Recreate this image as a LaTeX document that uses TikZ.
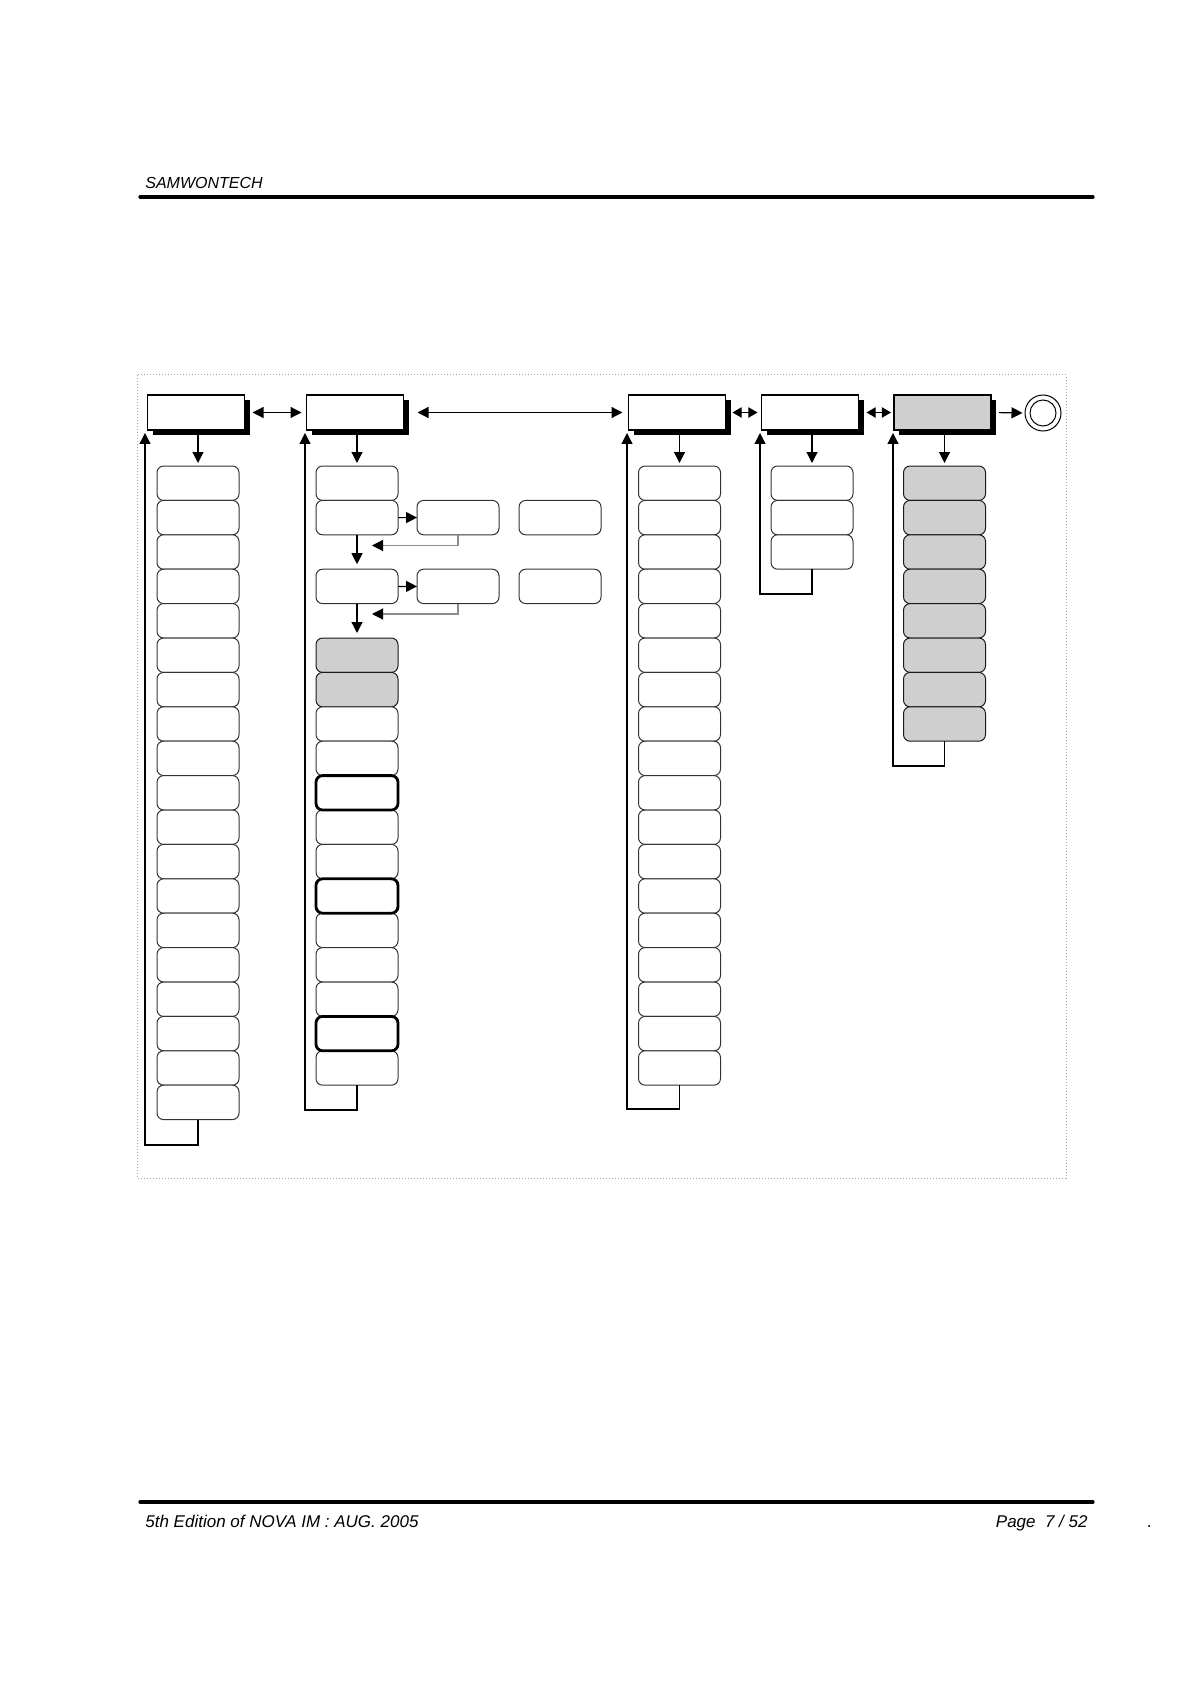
\documentclass[tikz,border=0pt]{standalone}
\usepackage{fontspec}
\setmainfont{Liberation Sans}
\usetikzlibrary{arrows.meta,shadows,calc}
\begin{document}
\begin{tikzpicture}[x=0.5pt,y=-0.5pt,
 item/.style={draw=black!80,line width=0.5pt,rounded corners=3.3pt,minimum width=41pt,minimum height=17.2pt,inner sep=0pt,outer sep=0pt,fill=white},
 gitem/.style={item,fill=black!19,draw=black!90},
 bitem/.style={item,draw=black,line width=1.4pt},
 hdr/.style={draw=black,line width=0.6pt,fill=white,minimum width=48.5pt,minimum height=17.5pt,inner sep=0pt,outer sep=0pt,drop shadow={shadow xshift=2.5pt,shadow yshift=-2.5pt,fill=black,opacity=1}},
 ghdr/.style={hdr,fill=black!19},
 conn/.style={line width=0.6pt,-{Triangle[length=5.5pt,width=5.5pt]}},
 dconn/.style={line width=0.6pt,{Triangle[length=5.5pt,width=5.5pt]}-{Triangle[length=5.5pt,width=5.5pt]}},
 sdconn/.style={line width=0.6pt,{Triangle[length=4.6pt,width=5.2pt]}-{Triangle[length=4.6pt,width=5.2pt]}},
 back/.style={line width=0.6pt,draw=black!45,-{Triangle[length=5.5pt,width=5.5pt,color=black]}},
 txt/.style={font=\fontsize{8pt}{10pt}\selectfont\itshape,inner sep=0pt},
 ftxt/.style={font=\fontsize{8.5pt}{10pt}\selectfont\itshape,inner sep=0pt},
]
\useasboundingbox (0,0) rectangle (1190,1684);

% page header and footer
\node[txt,anchor=base west] (brand) at (145,189) {SAMWONTECH};
\draw[line width=1.6pt,line cap=round] (140,197) -- (1093,197);
\draw[line width=1.6pt,line cap=round] (140,1502) -- (1093,1502);
\node[ftxt,anchor=base west] (edition) at (145,1527) {5th Edition of NOVA IM : AUG. 2005};
\node[ftxt,anchor=base east] (page) at (1088,1527) {Page\ \ 7 / 52};
\node[ftxt,anchor=base] (dot) at (1150,1527) {.};

% dotted frame
\draw[black!35,line width=0.5pt,dash pattern=on 0.5pt off 1pt] (137,375) rectangle (1066,1178);

% header boxes
\node[hdr] (h1) at (196,412.5) {};
\node[hdr] (h2) at (355,412.5) {};
\node[hdr] (h4) at (677,412.5) {};
\node[hdr] (h5) at (810,412.5) {};
\node[ghdr] (h6) at (942.5,412.5) {};
\node[circle,draw,line width=0.5pt,minimum size=18pt,inner sep=0pt] (endc) at (1043,413) {};
\node[circle,draw,line width=0.5pt,minimum size=13pt,inner sep=0pt] (endi) at (endc) {};

% header arrows
\draw[dconn,shorten <=4pt,shorten >=2.5pt] (h1.east) -- (h2.west);
\draw[dconn,shorten <=7pt,shorten >=3pt] (h2.east) -- (h4.west);
\draw[sdconn,shorten <=3.5pt,shorten >=2pt] (h4.east) -- (h5.west);
\draw[sdconn,shorten <=4pt,shorten >=1.5pt] (h5.east) -- (h6.west);
\draw[conn,shorten <=4pt,shorten >=1pt] (h6.east) -- (endc.west);

% column 1
\foreach \k in {0,...,18} \node[item] (c1i\k) at (198,{483.2+34.4*\k}) {};
% column 2
\foreach \k/\s in {0/item,1/item,3/item,5/gitem,6/gitem,7/item,8/item,10/item,11/item,13/item,14/item,15/item,17/item,9/bitem,12/bitem,16/bitem}
  \node[\s] (c2i\k) at (357,{483.2+34.4*\k}) {};
\node[item] (s1) at (458,517.6) {};
\node[item] (s1b) at (560,517.6) {};
\node[item] (s2) at (458,586.4) {};
\node[item] (s2b) at (560,586.4) {};
% column 4
\foreach \k in {0,...,17} \node[item] (c4i\k) at (679.5,{483.2+34.4*\k}) {};
% column 5
\foreach \k in {0,...,2} \node[item] (c5i\k) at (812,{483.2+34.4*\k}) {};
% column 6
\foreach \k in {0,...,7} \node[gitem] (c6i\k) at (944.5,{483.2+34.4*\k}) {};

% header down arrows
\draw[conn,shorten >=1.5pt] (h1.south -| c1i0.north) -- (c1i0.north);
\draw[conn,shorten >=1.5pt] (h2.south -| c2i0.north) -- (c2i0.north);
\draw[conn,shorten >=1.5pt] (h4.south -| c4i0.north) -- (c4i0.north);
\draw[conn,shorten >=1.5pt] (h5.south -| c5i0.north) -- (c5i0.north);
\draw[conn,shorten >=1.5pt] (h6.south -| c6i0.north) -- (c6i0.north);

% column 2 sub-branches
\draw[conn] (c2i1.east) -- (s1.west);
\draw[conn,shorten >=2.5pt] (c2i1.south) -- (c2i3.north);
\coordinate (t1) at (372,545.5);
\draw[back] (s1.south) |- (t1);
\draw[conn] (c2i3.east) -- (s2.west);
\draw[conn,shorten >=2.5pt] (c2i3.south) -- (c2i5.north);
\coordinate (t2) at (372,614);
\draw[back] (s2.south) |- (t2);

% return loops
\coordinate (b1) at (145,1145); \coordinate (r1) at (145,433);
\draw[conn] (c1i18.south) |- (b1) -- (r1);
\coordinate (b2) at (305,1110); \coordinate (r2) at (305,433);
\draw[conn] (c2i17.south) |- (b2) -- (r2);
\coordinate (b4) at (627,1109); \coordinate (r4) at (627,433);
\draw[conn] (c4i17.south) |- (b4) -- (r4);
\coordinate (b5) at (760,594); \coordinate (r5) at (760,433);
\draw[conn] (c5i2.south) |- (b5) -- (r5);
\coordinate (b6) at (893,766); \coordinate (r6) at (893,433);
\draw[conn] (c6i7.south) |- (b6) -- (r6);
\end{tikzpicture}
\end{document}
